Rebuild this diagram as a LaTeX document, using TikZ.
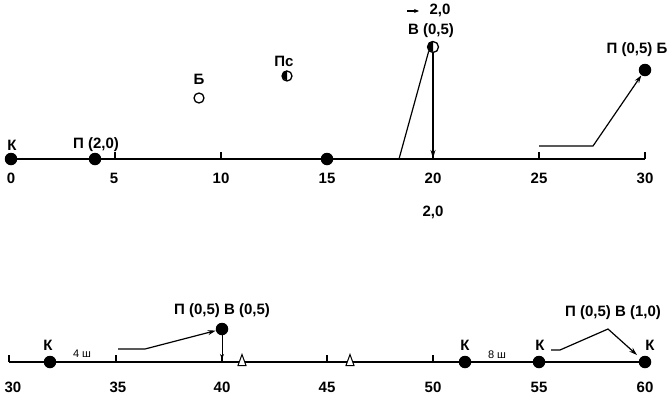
\documentclass[tikz,border=0pt]{standalone}
\usepackage{fontspec}
\setmainfont{Liberation Sans}
\usetikzlibrary{arrows.meta,shapes.geometric}
\tikzset{
  lbl/.style={font=\bfseries\fontsize{15}{17}\selectfont, inner sep=0pt},
  small/.style={font=\fontsize{11}{13}\selectfont, inner sep=0pt},
  dotf/.style={circle, fill=black, minimum size=12.5pt, inner sep=0pt},
  doto/.style={circle, draw=black, line width=1.3pt, fill=white, minimum size=10pt, inner sep=0pt},
  axis/.style={line width=1.2pt},
  tickm/.style={line width=1.2pt},
  conn/.style={line width=1.2pt},
  arr/.style={line width=1.2pt, -{Stealth[length=8pt,width=5pt]}},
  tri/.style={draw, line width=1pt, fill=white, isosceles triangle, shape border rotate=90, isosceles triangle apex angle=40, minimum height=11pt, minimum width=7pt, inner sep=0pt}
}
\begin{document}
\begin{tikzpicture}[x=1pt,y=-1pt]
\useasboundingbox (0,0) rectangle (672,399);
% ---------- top axis ----------
\coordinate (tL) at (10,159);
\coordinate (tR) at (645,159);
\draw[axis] (tL) -- (tR);
\foreach \x in {115,221,433,539,645} \draw[tickm] (\x,159) -- (\x,152);
\foreach \x/\t in {11/0,114/5,221/10,327/15,433/20,539/25,645/30}
  \node[lbl] at (\x,178) {\t};
\node[dotf] (k0) at (11,159) {};
\node[lbl] at (12,145) {К};
\node[dotf] (p2) at (95,159) {};
\node[lbl] at (96,145) {П (2,0)};
\node[dotf] (d15) at (327,159) {};
% Б open circle
\node[lbl] at (199,79) {Б};
\node[doto] (b) at (199,98) {};
% Пс half circle
\node[lbl] at (284,61) {Пс};
\node[doto] (ps) at (287,76) {};
\fill (ps.north) arc[start angle=90,end angle=270,radius=5pt] -- cycle;
% В (0,5)
\node[lbl] (sv) at (440,10) {2,0};
\draw[line width=1.2pt,-{Stealth[length=5pt,width=4pt]}] (407,11) -- (419,11);
\node[lbl] at (431,31) {В (0,5)};
\node[doto, minimum size=11pt] (v) at (433,47) {};
\fill (v.north) arc[start angle=90,end angle=270,radius=5.5pt] -- cycle;
\coordinate (s1) at (399,159);
\draw[conn] (s1) -- (v.south west);
\coordinate (v20) at (433,158);
\draw[arr] (v.south) -- (v20);
\node[lbl] at (433,212) {2,0};
% П (0,5) Б
\node[dotf] (pb) at (645,70) {};
\node[lbl] at (637,50) {П (0,5) Б};
\coordinate (r1) at (539,146);
\coordinate (r2) at (593,146);
\draw[arr] (r1) -- (r2) -- (pb);
% ---------- bottom axis ----------
\coordinate (bL) at (9,362);
\coordinate (bR) at (645,362);
\draw[axis] (bL) -- (bR);
\foreach \x in {9,116,222,327,433} \draw[tickm] (\x,362) -- (\x,355);
\foreach \x/\t in {13/30,118/35,222/40,327/45,433/50,539/55,645/60}
  \node[lbl] at (\x,387) {\t};
\node[dotf] (k1) at (50,362) {};
\node[lbl] at (48,345) {К};
\node[small] at (82,354) {4 ш};
\node[dotf] (pv) at (222,329) {};
\node[lbl] at (222,311) {П (0,5) В (0,5)};
\coordinate (q1) at (118,349);
\coordinate (q2) at (145,349);
\draw[arr] (q1) -- (q2) -- (pv);
\coordinate (q40) at (222,359);
\draw[line width=1pt,-{Stealth[length=5pt,width=4pt]}] (pv.south) -- (q40);
\node[tri, anchor=south] (t1) at (242,366) {};
\node[tri, anchor=south] (t2) at (350,366) {};
\node[dotf] (k2) at (465,362) {};
\node[lbl] at (465,345) {К};
\node[small] at (497,355) {8 ш};
\node[dotf] (k3) at (539,362) {};
\node[lbl] at (540,345) {К};
\node[dotf] (k4) at (645,362) {};
\node[lbl] at (650,345) {К};
\node[lbl] at (613,313) {П (0,5) В (1,0)};
\coordinate (w1) at (551,350);
\coordinate (w2) at (560,350);
\coordinate (w3) at (608,329);
\coordinate (w4) at (637,355);
\draw[arr] (w1) -- (w2) -- (w3) -- (w4);
\end{tikzpicture}
\end{document}
